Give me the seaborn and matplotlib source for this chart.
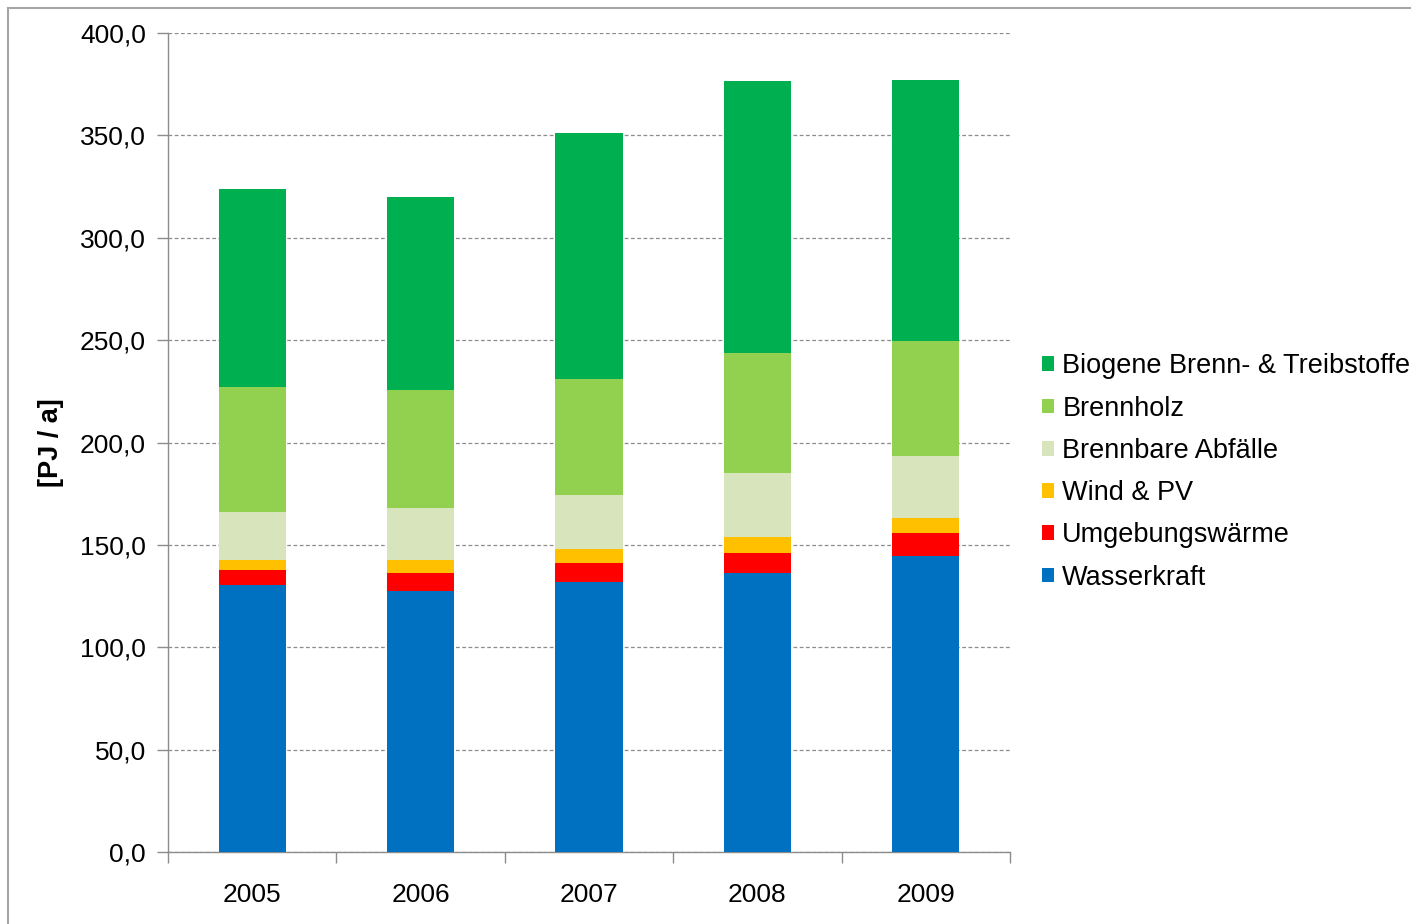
import numpy as np
import pandas as pd
import matplotlib
matplotlib.use("Agg")
import matplotlib.pyplot as plt
import seaborn as sns
from matplotlib.patches import Patch, Rectangle
from matplotlib.ticker import FuncFormatter, FixedLocator

years = ["2005", "2006", "2007", "2008", "2009"]
wasserkraft = [130.4, 127.4, 131.8, 136.1, 144.7]
umgebungswaerme = [7.1, 8.7, 9.2, 9.7, 11.2]
wind_pv = [5.1, 6.5, 7.1, 8.0, 7.2]
abfaelle = [23.3, 25.2, 26.2, 31.1, 30.3]
brennholz = [61.2, 57.8, 56.7, 58.8, 56.2]
biogene = [96.8, 94.2, 120.3, 133.0, 127.6]

series = [
    ("Wasserkraft", wasserkraft, "#0070C0"),
    ("Umgebungswärme", umgebungswaerme, "#FF0000"),
    ("Wind & PV", wind_pv, "#FFC000"),
    ("Brennbare Abfälle", abfaelle, "#D8E4BC"),
    ("Brennholz", brennholz, "#92D050"),
    ("Biogene Brenn- & Treibstoffe", biogene, "#00B050"),
]

sns.set_style("white")
plt.rcParams["font.family"] = ["Liberation Sans", "DejaVu Sans"]
plt.rcParams["text.color"] = "black"
plt.rcParams["xtick.labelcolor"] = "black"
plt.rcParams["ytick.labelcolor"] = "black"
plt.rcParams["axes.labelcolor"] = "black"

fig = plt.figure(figsize=(14.11, 9.24), dpi=100)
ax = fig.add_axes([168 / 1411, 1 - 852 / 924, (1010 - 168) / 1411, (852 - 33) / 924])

# cumulative totals, drawn from the tallest down so the layers stack
cum = np.cumsum([s[1] for s in series], axis=0)
for i in range(len(series) - 1, -1, -1):
    df = pd.DataFrame({"year": years, "value": cum[i]})
    sns.barplot(data=df, x="year", y="value", color=series[i][2], width=0.4,
                saturation=1, ax=ax, edgecolor="none", zorder=3)

ax.set_ylim(0, 400)
ax.set_xlim(-0.5, 4.5)
ax.set_yticks(np.arange(0, 401, 50))
ax.yaxis.set_major_formatter(FuncFormatter(lambda v, p: f"{v:.1f}".replace(".", ",")))
ax.grid(axis="y", color="#8c8c8c", linestyle=(0, (3, 2)), linewidth=0.9, zorder=0)
ax.set_axisbelow(True)

for side in ["top", "right"]:
    ax.spines[side].set_visible(False)
for side in ["left", "bottom"]:
    ax.spines[side].set_color("#8c8c8c")
    ax.spines[side].set_linewidth(1.0)

ax.tick_params(axis="y", which="major", length=8, width=1, color="#8c8c8c",
               labelsize=19, pad=8, left=True, direction="out")
ax.tick_params(axis="x", which="major", length=0, labelsize=19, pad=22)
ax.xaxis.set_minor_locator(FixedLocator(np.arange(-0.5, 5.0, 1.0)))
ax.tick_params(axis="x", which="minor", length=8, width=1, color="#8c8c8c",
               bottom=True, direction="out")

ax.set_xlabel("")
ax.set_ylabel("[PJ / a]", fontsize=19.5, fontweight="bold", labelpad=11)

handles = [Patch(facecolor=c, edgecolor="none", label=n) for n, v, c in series][::-1]
fig.legend(handles=handles, loc="center left", bbox_to_anchor=(1042 / 1411, 1 - 472 / 924),
           frameon=False, fontsize=19.5, handlelength=0.45, handleheight=0.45,
           handletextpad=0.3, labelspacing=0.6, borderpad=0, borderaxespad=0)

# outer chart frame
fig.patches.append(Rectangle((8 / 1411, -0.1), 1.2, 1 - 8 / 924 + 0.1,
                             transform=fig.transFigure, fill=False,
                             edgecolor="#a6a6a6", linewidth=1.5))

fig.savefig("out.png", dpi=100)
